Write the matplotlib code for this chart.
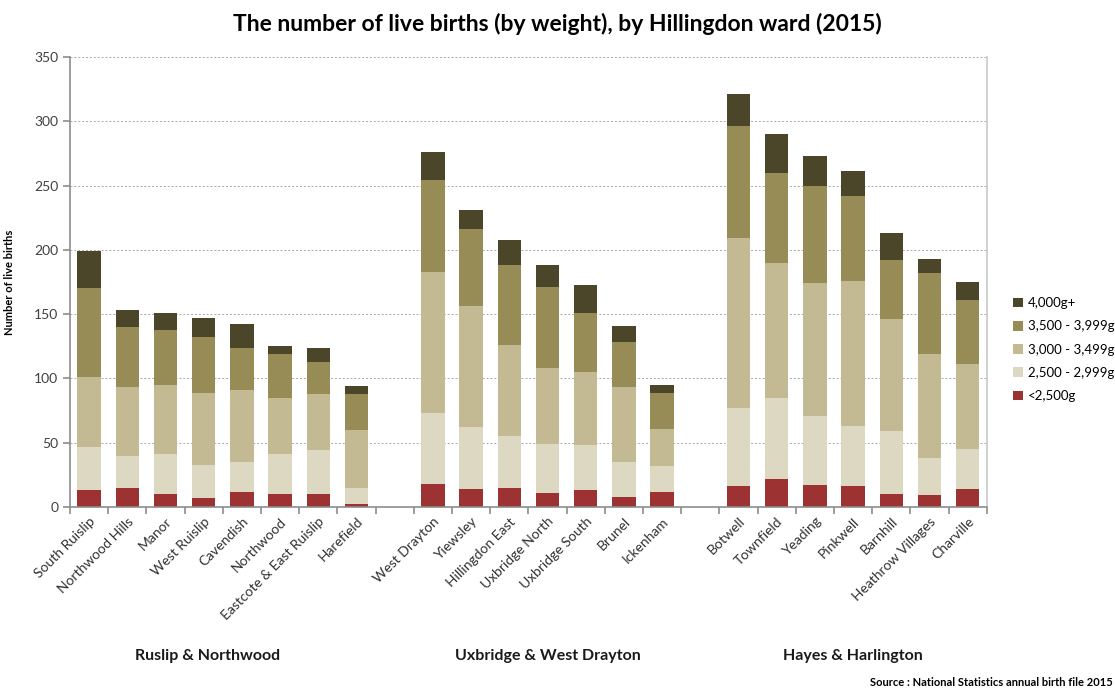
import matplotlib
matplotlib.use("Agg")
import matplotlib.pyplot as plt
import numpy as np

plt.rcParams['font.family'] = ['Lato', 'DejaVu Sans']

# categories (empty strings are the gaps between the three areas)
wards = ["South Ruislip", "Northwood Hills", "Manor", "West Ruislip", "Cavendish",
         "Northwood", "Eastcote & East Ruislip", "Harefield", "",
         "West Drayton", "Yiewsley", "Hillingdon East", "Uxbridge North",
         "Uxbridge South", "Brunel", "Ickenham", "",
         "Botwell", "Townfield", "Yeading", "Pinkwell", "Barnhill",
         "Heathrow Villages", "Charville"]

# births per weight band (0 for the gap slots)
under2500 = [13, 15, 10, 7, 12, 10, 10, 2, 0,
             18, 14, 15, 11, 13, 8, 12, 0,
             16, 22, 17, 16, 10, 9, 14]
w2500_2999 = [34, 25, 31, 26, 23, 31, 34, 13, 0,
              55, 48, 40, 38, 35, 27, 20, 0,
              61, 63, 54, 47, 49, 29, 31]
w3000_3499 = [54, 53, 54, 56, 56, 44, 44, 45, 0,
              110, 94, 71, 59, 57, 58, 29, 0,
              132, 105, 103, 113, 87, 81, 66]
w3500_3999 = [69, 47, 43, 43, 33, 34, 25, 28, 0,
              71, 60, 62, 63, 46, 35, 28, 0,
              87, 70, 76, 66, 46, 63, 50]
w4000plus = [29, 13, 13, 15, 18, 6, 11, 6, 0,
             22, 15, 20, 17, 22, 13, 6, 0,
             25, 30, 23, 19, 21, 11, 14]

series = [under2500, w2500_2999, w3000_3499, w3500_3999, w4000plus]
labels = ["<2,500g", "2,500 - 2,999g", "3,000 - 3,499g", "3,500 - 3,999g", "4,000g+"]
colors = ["#9c3231", "#dcd8c2", "#c3ba93", "#978b56", "#4b4529"]

groups = ["Ruslip & Northwood", "Uxbridge & West Drayton", "Hayes & Harlington"]
group_pos = [3.1, 12, 20]

fig = plt.figure(figsize=(11.15, 6.95), dpi=100)
ax = fig.add_axes([0.0628, 0.2705, 0.8222, 0.6475])

x = np.arange(len(wards))
bottom = np.zeros(len(wards))
handles = []
for vals, lab, col in zip(series, labels, colors):
    b = ax.bar(x, vals, width=0.61, bottom=bottom, color=col, label=lab)
    handles.append(b)
    bottom += np.array(vals)

ax.set_xlim(-0.5, len(wards) - 0.5)
ax.set_ylim(0, 350)
ax.set_yticks(np.arange(0, 351, 50))
ax.yaxis.grid(True, linestyle=(0, (2, 2)), color="#a8a8a8", linewidth=0.7)
ax.set_axisbelow(True)

ax.spines["top"].set_visible(False)
for s in ["left", "bottom", "right"]:
    ax.spines[s].set_color("#8c8c8c")
    ax.spines[s].set_linewidth(1.2)
ax.spines["right"].set_color("#c8c8c8")

ax.set_xticks(x)
ax.set_xticklabels(wards, rotation=45, ha="right", rotation_mode="anchor",
                   fontsize=10, color="#303030")
ax.tick_params(axis="x", which="major", length=0, pad=6)
ax.set_xticks(np.arange(-0.5, len(wards), 1), minor=True)
ax.tick_params(axis="x", which="minor", length=5, color="#8c8c8c", width=1.2)
ax.tick_params(axis="y", length=5, color="#8c8c8c", width=1.2,
               labelsize=10, labelcolor="#404040")

ax.set_ylabel("Number of live births", fontsize=8, fontweight="bold", labelpad=14)

for g, gx in zip(groups, group_pos):
    ax.text(gx, -0.33, g, transform=ax.get_xaxis_transform(), ha="center",
            va="center", fontsize=11.5, fontweight="bold", color="#1a1a1a")

fig.text(0.5, 0.966, "The number of live births (by weight), by Hillingdon ward (2015)",
         ha="center", va="center", fontsize=16.5, fontweight="bold")

leg = fig.legend(handles[::-1], labels[::-1], loc="center left",
                 bbox_to_anchor=(0.898, 0.497), frameon=False, fontsize=9.5,
                 handlelength=0.75, handleheight=0.75, handletextpad=0.4,
                 labelspacing=0.85)

fig.text(0.998, 0.01, "Source : National Statistics annual birth file 2015",
         ha="right", va="bottom", fontsize=8, fontweight="bold")

fig.savefig("out.png", dpi=100)
